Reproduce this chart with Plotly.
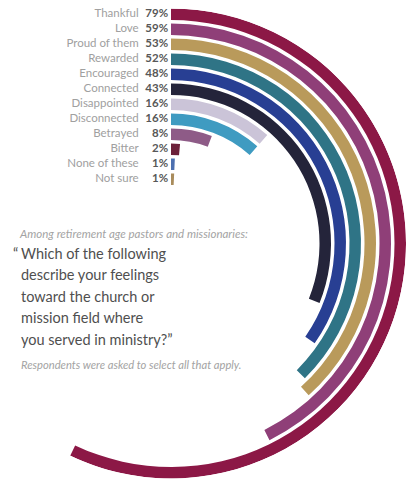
import plotly.graph_objects as go

# ---- data ----
categories = ["Thankful", "Love", "Proud of them", "Rewarded", "Encouraged", "Connected",
              "Disappointed", "Disconnected", "Betrayed", "Bitter", "None of these", "Not sure"]
values = [79, 59, 53, 52, 48, 43, 16, 16, 8, 2, 1, 1]
colors = ["#8c1846", "#8f3f78", "#b99a5b", "#2f7486", "#283f93", "#24243a",
          "#cbc4d8", "#3f9bc1", "#8e5b87", "#6c2039", "#4d70b0", "#a98c5c"]

subtitle = "Among retirement age pastors and missionaries:"
question_lines = ["Which of the following", "describe your feelings", "toward the church or",
                  "mission field where", "you served in ministry?\u201d"]
footnote = "Respondents were asked to select all that apply."

# ---- styling / scales ----
W, H = 406, 483
DEG_PER_PCT = 2.6          # angular scale
R_OUT = 235                # radial axis max (px units)
PITCH = 15
THICK = 11.5
FONT = "Lato"

n = len(values)
bases = [R_OUT - i * PITCH - THICK for i in range(n)]
arc_w = [v * DEG_PER_PCT for v in values]
arc_c = [w / 2 for w in arc_w]

pct_txt = []
for v in values:
    s = f"{v}%"
    if v < 10:
        s = "\u2007" + s
    pct_txt.append(s)
label_txt = [f"<span style='color:#a0a0a0'>{c}</span>\u2007<b>{p}</b>\u2005"
             for c, p in zip(categories, pct_txt)]

fig = go.Figure()
fig.add_trace(go.Barpolar(
    r=[THICK] * n, base=bases, theta=arc_c, width=arc_w,
    marker=dict(color=colors, line=dict(width=0)),
    hoverinfo="skip", showlegend=False,
))
fig.add_trace(go.Scatterpolar(
    r=[b + THICK / 2 for b in bases], theta=[0] * n,
    mode="text", text=label_txt, textposition="middle left",
    textfont=dict(family=FONT, size=11.5, color="#585858"),
    cliponaxis=False, hoverinfo="skip", showlegend=False,
))

x0px, x1px = 53.5, 406
y0px, y1px = 8.5, 478.5
fig.update_layout(
    width=W, height=H, margin=dict(l=0, r=0, t=0, b=0),
    paper_bgcolor="white", plot_bgcolor="white",
    polar=dict(
        domain=dict(x=[x0px / W, x1px / W], y=[1 - y1px / H, 1 - y0px / H]),
        sector=[-120, 90],
        bgcolor="rgba(0,0,0,0)",
        radialaxis=dict(range=[0, R_OUT], visible=False),
        angularaxis=dict(rotation=90, direction="clockwise", showline=False,
                         showgrid=False, showticklabels=False, ticks=""),
    ),
    font=dict(family=FONT),
)

def px(x, y):
    return x / W, 1 - y / H

def note(x, y, text, size, color, anchor="left"):
    ax, ay = px(x, y)
    fig.add_annotation(x=ax, y=ay, xref="paper", yref="paper", xanchor=anchor,
                       yanchor="middle", text=text, showarrow=False, align="left",
                       font=dict(family=FONT, size=size, color=color))

note(17, 233, f"<i>{subtitle}</i>", 11.5, "#a3a3a3")
note(20, 253, "\u201c", 14.5, "#4f4f4f", anchor="right")
for i, line in enumerate(question_lines):
    note(19, 253 + i * 21.5, line, 14.5, "#4f4f4f")
note(19, 364, f"<i>{footnote}</i>", 11.2, "#a3a3a3")

fig.write_html("out.html")
